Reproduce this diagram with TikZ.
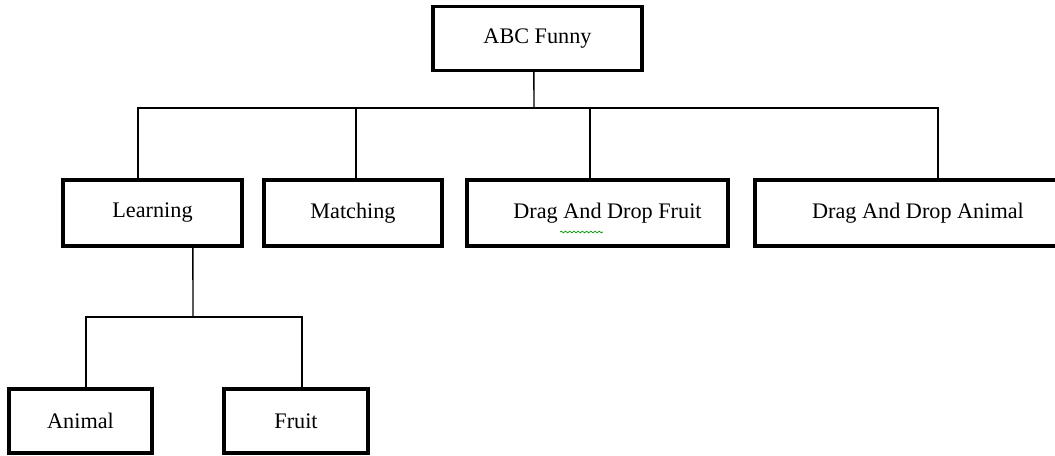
\documentclass[tikz,border=0pt]{standalone}
\usepackage{fontspec}
\setmainfont{Liberation Serif}
\usetikzlibrary{decorations.pathmorphing}

\begin{document}
\begin{tikzpicture}[x=0.025cm, y=-0.025cm,
    menubox/.style={draw, line width=2.3pt, minimum height=1.6cm, inner sep=0pt,
      font=\fontsize{15.8}{19}\selectfont},
    link/.style={line width=1pt}]
  \clip (0,0) rectangle (1055,455);

  % main menu and its four items
  \node[menubox, minimum width=5.22cm] (abc) at (537.5,38.5) {ABC Funny};
  \node[menubox, minimum width=4.47cm, minimum height=1.65cm] (learn) at (152.5,213) {Learning};
  \node[menubox, minimum width=4.45cm, minimum height=1.65cm] (match) at (353,213) {Matching};
  \node[menubox, minimum width=6.52cm, minimum height=1.65cm] (dadf) at (597.5,213) {\hspace*{0.5cm}Drag And Drop Fruit};
  \node[menubox, minimum width=8.15cm, minimum height=1.65cm] (dada) at (918,213) {Drag And Drop Animal};

  % sub items of Learning
  \node[menubox, minimum width=3.57cm] (animal) at (80.5,421) {Animal};
  \node[menubox, minimum width=3.6cm] (fruit) at (296,421) {Fruit};

  \coordinate (bar) at (534,108);
  \coordinate (subbar) at (193,317);

  \draw[link] ([xshift=-0.09cm]abc.south) -- (bar);
  \draw[link] ([xshift=-0.36cm]learn.north) |- (bar) -| ([xshift=0.5cm]dada.north);
  \draw[link] ([xshift=0.075cm]match.north) -- ([xshift=0.075cm]match.north |- bar);
  \draw[link] ([xshift=-0.19cm]dadf.north) -- ([xshift=-0.19cm]dadf.north |- bar);

  \draw[link] ([xshift=1.01cm]learn.south) -- (subbar);
  \draw[link] ([xshift=0.14cm]animal.north) |- (subbar) -| ([xshift=0.15cm]fruit.north);

  % spell check mark under "And"
  \draw[green!60!black, line width=0.5pt, decorate,
    decoration={snake, amplitude=0.6pt, segment length=3pt}] (560,232) -- (603,232);
\end{tikzpicture}
\end{document}
